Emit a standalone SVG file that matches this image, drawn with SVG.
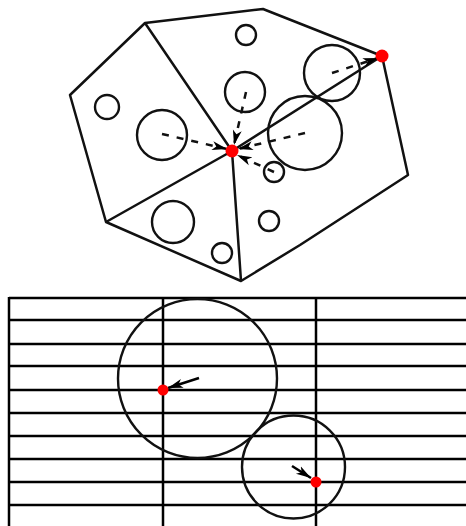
<svg xmlns="http://www.w3.org/2000/svg" width="466" height="526" viewBox="0 0 466 526">
<defs>
<marker id="arrow" markerUnits="userSpaceOnUse" markerWidth="16" markerHeight="12" refX="15" refY="5" orient="auto" viewBox="0 0 16 10"><path d="M0 0.500L15 5L0 9.500L4 5Z" fill="#000"/></marker>
</defs>
<style>
.l{fill:none;stroke:#111;stroke-width:2.500;stroke-linejoin:round}
.c{fill:none;stroke:#111;stroke-width:2.400}
.d{fill:none;stroke:#111;stroke-width:2.500;stroke-dasharray:7 8;marker-end:url(#arrow)}
.a{fill:none;stroke:#000;stroke-width:2.500;marker-end:url(#arrow)}
.g{stroke:#000;stroke-width:2.500}
.r{fill:#f00}
</style>
<rect width="466" height="526" fill="#fff"/>
<g id="polygon-mesh">
<path class="l" d="M145 23L263 9L382 56L408 175L300 245L241 281L106 222L70 95Z"/>
<path class="l" d="M145 23L232 151M106 222L232 151L382 56M232 151L241 281"/>
</g>
<g id="circles-top">
<circle class="c" cx="107" cy="107" r="12"/>
<circle class="c" cx="162" cy="135" r="25"/>
<circle class="c" cx="246" cy="35" r="10"/>
<circle class="c" cx="245" cy="92" r="20"/>
<circle class="c" cx="332" cy="73" r="28"/>
<circle class="c" cx="305" cy="133" r="37"/>
<circle class="c" cx="274" cy="172" r="10"/>
<circle class="c" cx="269" cy="221" r="10"/>
<circle class="c" cx="222" cy="253" r="10"/>
<circle class="c" cx="173" cy="222" r="21"/>
</g>
<g id="connectors">
<path class="d" d="M162 134L227 149"/>
<path class="d" d="M246 92L234 145"/>
<path class="d" d="M305 133L238 149"/>
<path class="d" d="M274 172L237 155"/>
<path class="d" d="M332 73L378 58"/>
<path class="a" d="M199 378L168 388"/>
<path class="a" d="M292 466L311 478"/>
</g>
<g id="grid">
<path class="g" d="M9 298H466M9 320H466M9 344H466M9 366H466M9 390H466M9 413H466M9 436H466M9 459H466M9 482H466M9 505H466"/>
<path class="g" d="M9 297V526M163 297V526M316 297V526"/>
</g>
<g id="circles-bottom">
<circle class="c" cx="197.500" cy="378.500" r="79.500"/>
<circle class="c" cx="293.500" cy="467" r="51.500"/>
</g>
<g id="point-a"><circle class="r" cx="232" cy="151" r="6.500"/></g>
<g id="point-b"><circle class="r" cx="382" cy="56" r="6.500"/></g>
<g id="point-c"><circle class="r" cx="163" cy="390" r="5.500"/></g>
<g id="point-d"><circle class="r" cx="316" cy="482" r="5.500"/></g>
</svg>
